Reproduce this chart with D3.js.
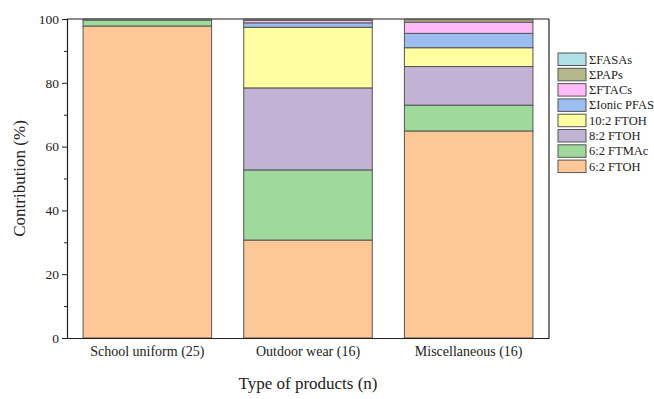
<!DOCTYPE html>
<html><head><meta charset="utf-8">
<script src="https://cdn.jsdelivr.net/npm/d3@7"></script>
<style>body{margin:0;background:#fff}svg{display:block}svg text{font-family:"Liberation Serif","Times New Roman",serif !important;fill:#222}</style>
</head><body><svg id="c" width="654" height="399"></svg>
<script>
const categories = ["School uniform (25)", "Outdoor wear (16)", "Miscellaneous (16)"];
const seriesNames = ["6:2 FTOH", "6:2 FTMAc", "8:2 FTOH", "10:2 FTOH", "\u03A3Ionic PFAS", "\u03A3FTACs", "\u03A3PAPs", "\u03A3FASAs"];
const s_62FTOH   = [97.8, 30.7, 64.9];
const s_62FTMAc  = [1.9, 22.0, 8.1];
const s_82FTOH   = [0.1, 25.7, 12.1];
const s_102FTOH  = [0.0, 19.0, 5.9];
const s_ionic    = [0.1, 1.4, 4.5];
const s_ftacs    = [0.1, 0.8, 3.5];
const s_paps     = [0.0, 0.3, 0.8];
const s_fasas    = [0.0, 0.1, 0.2];
const yTicks = [0, 20, 40, 60, 80, 100];
const colors = ["#FDC895", "#9FD99C", "#C2B2D5", "#FFFFA1", "#9BBDF0", "#FFBBF7", "#B4B88C", "#AEE0E6"];

const seriesValues = [s_62FTOH, s_62FTMAc, s_82FTOH, s_102FTOH, s_ionic, s_ftacs, s_paps, s_fasas];
const data = categories.map((c, i) => {
  const o = {cat: c};
  seriesNames.forEach((n, j) => o[n] = seriesValues[j][i]);
  return o;
});
const stack = d3.stack().keys(seriesNames)(data);

const svg = d3.select("#c");
const FF = '"Liberation Serif", "Times New Roman", serif';
const L = 67, R = 549, T = 19, B = 338;
const x = d3.scaleBand().domain(categories).range([L, R]).paddingInner(0.2).paddingOuter(0.1);
const y = d3.scaleLinear().domain([0, 100]).range([B, T]);

// bars
stack.forEach((layer, j) => {
  svg.append("g").selectAll("rect").data(layer).join("rect")
    .attr("x", (d, i) => x(categories[i]))
    .attr("width", x.bandwidth())
    .attr("y", d => y(d[1]))
    .attr("height", d => Math.max(0, y(d[0]) - y(d[1])))
    .attr("fill", colors[j])
    .attr("stroke", "#555")
    .attr("stroke-width", 1);
});

// frame
svg.append("line").attr("x1", L).attr("x2", R).attr("y1", T).attr("y2", T).attr("stroke", "#666").attr("stroke-width", 1.5);
svg.append("line").attr("x1", R).attr("x2", R).attr("y1", T).attr("y2", B).attr("stroke", "#222").attr("stroke-width", 1.2);

// y axis
const ya = svg.append("g").attr("transform", `translate(${L},0)`)
  .call(d3.axisLeft(y).tickValues(yTicks).tickSize(5).tickPadding(3).tickFormat(d3.format("d")));
ya.attr("font-family", FF);
ya.select(".domain").attr("stroke", "#222").attr("stroke-width", 1.2);
ya.selectAll(".tick line").attr("stroke", "#222");
ya.selectAll(".tick text").style("font-size", "13.5px").style("font-family", FF).attr("fill", "#222");
const minor = svg.append("g").attr("transform", `translate(${L},0)`)
  .call(d3.axisLeft(y).tickValues([10, 30, 50, 70, 90]).tickSize(3).tickFormat(""));
minor.select(".domain").remove();
minor.selectAll(".tick line").attr("stroke", "#222");

// x axis
const xa = svg.append("g").attr("transform", `translate(0,${B})`)
  .call(d3.axisBottom(x).tickSize(0).tickPadding(8));
xa.attr("font-family", FF);
xa.select(".domain").attr("stroke", "#222").attr("stroke-width", 1.2);
xa.selectAll(".tick text").style("font-size", "14px").style("font-family", FF).attr("fill", "#222");

// axis titles
svg.append("text").attr("transform", `translate(25,${(T + B) / 2}) rotate(-90)`)
  .attr("text-anchor", "middle").style("font-size", "17px").text("Contribution (%)");
svg.append("text").attr("x", (L + R) / 2).attr("y", 389)
  .attr("text-anchor", "middle").style("font-size", "17px").text("Type of products (n)");

// legend (top entry = last series)
const legendOrder = seriesNames.map((n, j) => ({n, c: colors[j]})).reverse();
const lg = svg.append("g").attr("transform", "translate(558,53)");
const rowH = 15.3;
legendOrder.forEach((d, i) => {
  const g = lg.append("g").attr("transform", `translate(0,${i * rowH})`);
  g.append("rect").attr("width", 28).attr("height", 12.5).attr("fill", d.c).attr("stroke", "#555").attr("stroke-width", 1);
  g.append("text").attr("x", 31).attr("y", 10.5).style("font-size", "12.5px").text(d.n);
});
</script></body></html>
